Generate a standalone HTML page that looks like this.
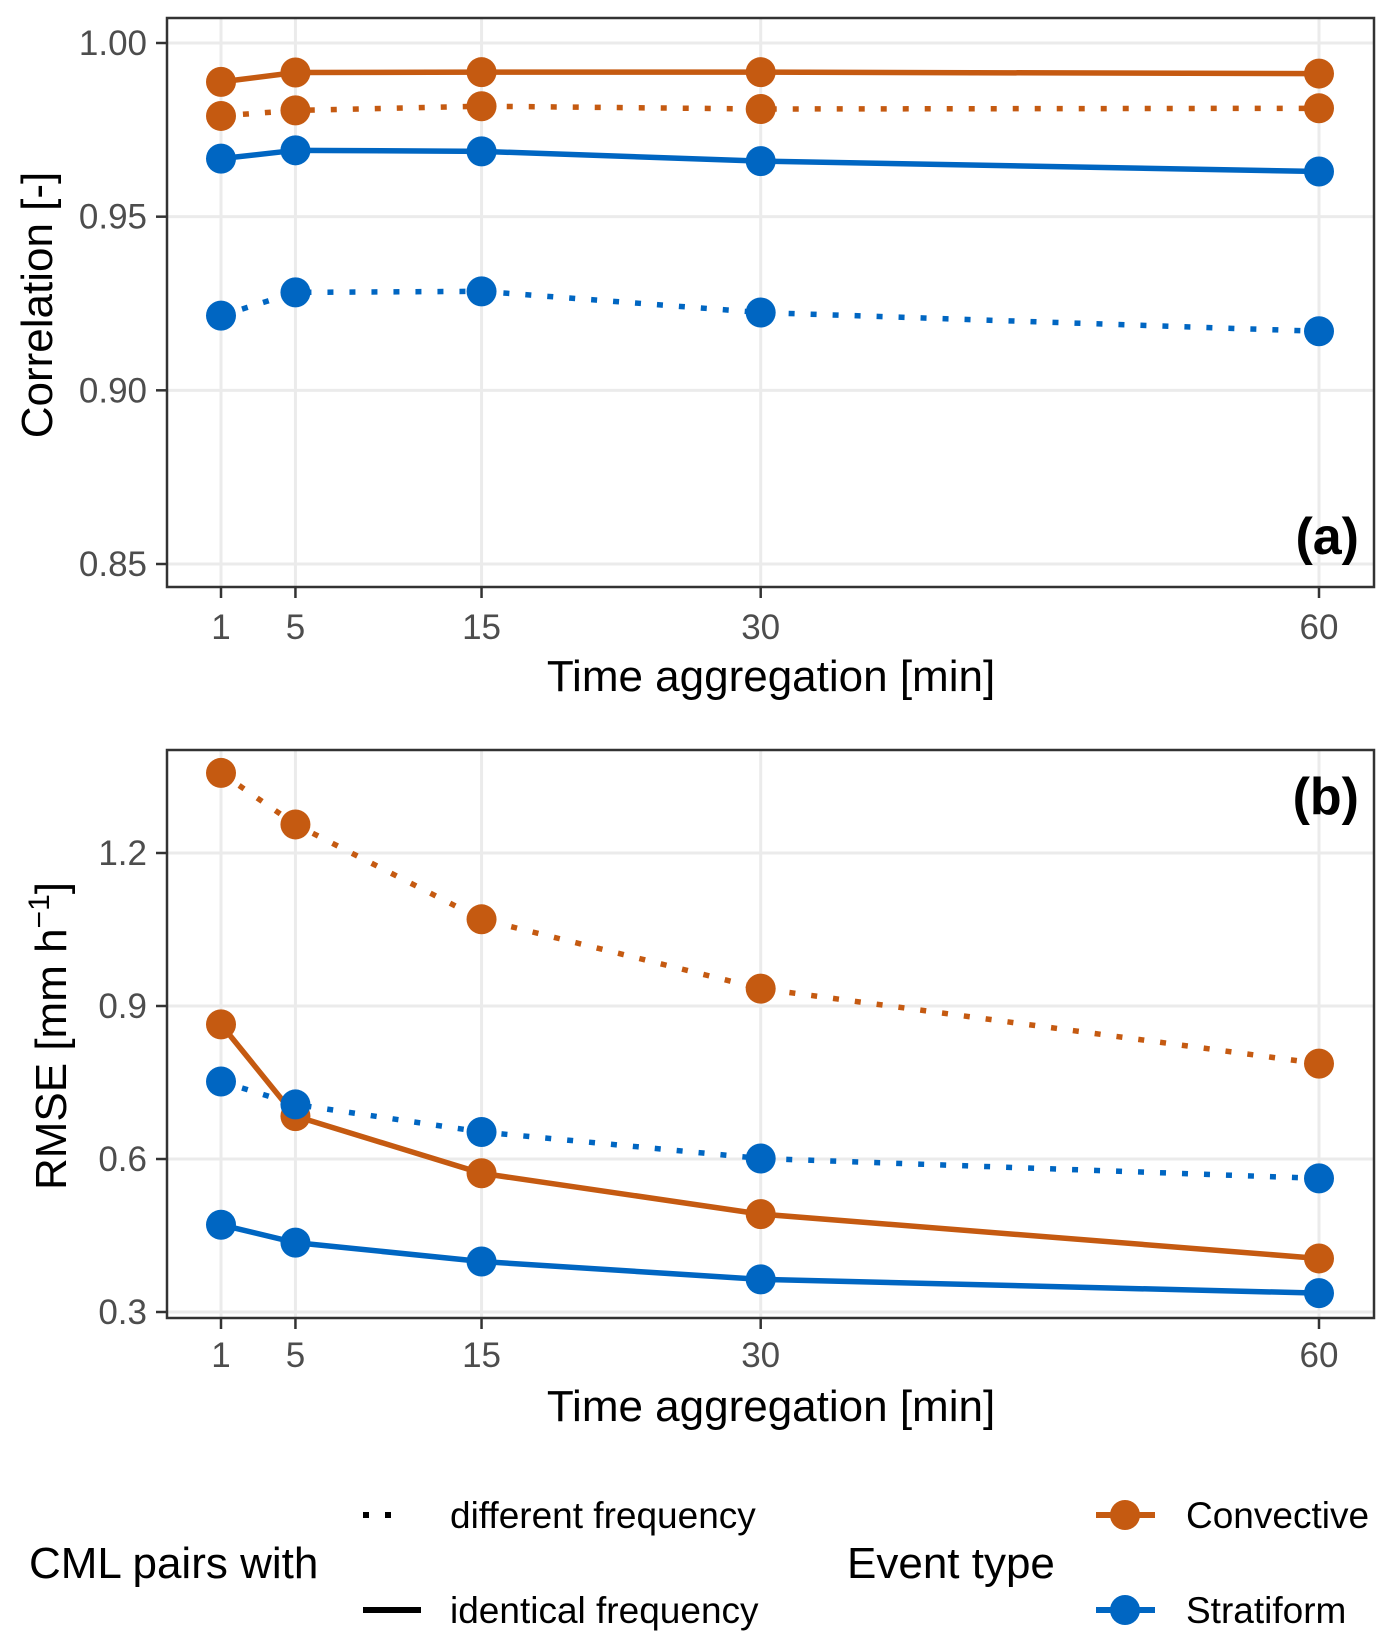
<!DOCTYPE html>
<html><head><meta charset="utf-8"><style>body{margin:0;background:#fff}svg{display:block;font-family:"Liberation Sans",sans-serif}</style></head>
<body>
<svg id="chart" width="1391" height="1646" viewBox="0 0 1391 1646">
<g id="pa"></g>
<g id="pb"></g>
<g font-size="37" fill="#000">
<text x="29" y="1578" font-size="44">CML pairs with</text>
<line x1="363" y1="1515" x2="405" y2="1515" stroke="#000" stroke-width="6" stroke-dasharray="6,16"/>
<text x="450" y="1528">different frequency</text>
<line x1="363" y1="1610" x2="421" y2="1610" stroke="#000" stroke-width="6"/>
<text x="450" y="1623">identical frequency</text>
<text x="847" y="1578" font-size="44">Event type</text>
<line x1="1096" y1="1515" x2="1155" y2="1515" stroke="#C55A11" stroke-width="6"/>
<circle cx="1125" cy="1515" r="15" fill="#C55A11"/>
<text x="1186" y="1528">Convective</text>
<line x1="1096" y1="1610" x2="1155" y2="1610" stroke="#0066C2" stroke-width="6"/>
<circle cx="1125" cy="1610" r="15" fill="#0066C2"/>
<text x="1186" y="1623">Stratiform</text>
</g>
</svg>
<script>
const times=[1,5,15,30,60];
const corrConvIdent=[0.9888,0.9915,0.9916,0.9916,0.9912];
const corrConvDiff=[0.979,0.9806,0.9818,0.981,0.9812];
const corrStratIdent=[0.9667,0.9691,0.9688,0.966,0.963];
const corrStratDiff=[0.9215,0.9282,0.9285,0.9224,0.917];
const rmseConvIdent=[0.864,0.684,0.572,0.492,0.405];
const rmseConvDiff=[1.357,1.256,1.07,0.934,0.787];
const rmseStratIdent=[0.471,0.436,0.399,0.364,0.337];
const rmseStratDiff=[0.752,0.707,0.653,0.601,0.562];
const corrTicks=[0.85,0.90,0.95,1.00];
const corrTickLabels=["0.85","0.90","0.95","1.00"];
const rmseTicks=[0.3,0.6,0.9,1.2];
const rmseTickLabels=["0.3","0.6","0.9","1.2"];
const NS="http://www.w3.org/2000/svg";
const ORANGE="#C55A11",BLUE="#0066C2";
function mk(p,t,a){const e=document.createElementNS(NS,t);for(const k in a)e.setAttribute(k,a[k]);p.appendChild(e);return e;}
const xS=v=>221+(v-1)*(1319-221)/59;
function panel(g,top,bottom,yS,ticks,labels,series,tag,tagY,xTickY,xTitleY){
  mk(g,'rect',{x:167,y:top,width:1207,height:bottom-top,fill:'#fff'});
  ticks.forEach((v,i)=>{const l=mk(g,'line',{x1:167,x2:1374,y1:yS(v),y2:yS(v),stroke:'#ebebeb','stroke-width':3});


const tk=mk(g,'line',{x1:156,x2:167,y1:yS(v),y2:yS(v),stroke:'#333','stroke-width':2.5});


const t=mk(g,'text',{x:147,y:yS(v)+12,'text-anchor':'end','font-size':35,fill:'#4d4d4d'});t.textContent=labels[i];

});
  times.forEach(v=>{const l=mk(g,'line',{x1:xS(v),x2:xS(v),y1:top,y2:bottom,stroke:'#ebebeb','stroke-width':3});


const tk=mk(g,'line',{x1:xS(v),x2:xS(v),y1:bottom,y2:bottom+11,stroke:'#333','stroke-width':2.5});


const t=mk(g,'text',{x:xS(v),y:xTickY,'text-anchor':'middle','font-size':35,fill:'#4d4d4d'});t.textContent=String(v);

});
  series.forEach(s=>{const pts=s.d.map((v,i)=>xS(times[i])+','+yS(v)).join(' ');
const pl=mk(g,'polyline',{points:pts,fill:'none',stroke:s.c,'stroke-width':5.5,'stroke-dasharray':s.dash?'6,16':'none'});


s.d.forEach((v,i)=>{const c=mk(g,'circle',{cx:xS(times[i]),cy:yS(v),r:15,fill:s.c});

});});
  const fr=mk(g,'rect',{x:167,y:top,width:1207,height:bottom-top,fill:'none',stroke:'#333','stroke-width':2.5});


  const tg=mk(g,'text',{x:1359,y:tagY,'text-anchor':'end','font-size':52,'font-weight':'bold'});tg.textContent=tag;


  const xt=mk(g,'text',{x:771,y:xTitleY,'text-anchor':'middle','font-size':44});xt.textContent='Time aggregation [min]';


}
const ya=v=>43+(1.00-v)*(564-43)/0.15;
const gA=document.getElementById('pa');
panel(gA,18,587,ya,corrTicks,corrTickLabels,[
 {d:corrConvIdent,c:ORANGE,n:'corr-convective-identical'},{d:corrConvDiff,c:ORANGE,dash:1,n:'corr-convective-different'},
 {d:corrStratIdent,c:BLUE,n:'corr-stratiform-identical'},{d:corrStratDiff,c:BLUE,dash:1,n:'corr-stratiform-different'}],'(a)',554,639,691);
const yta=mk(gA,'text',{transform:'translate(52,305) rotate(-90)','text-anchor':'middle','font-size':44});yta.textContent='Correlation [-]';


const yb=v=>853+(1.2-v)*(1312-853)/0.9;
const gB=document.getElementById('pb');
panel(gB,750,1318,yb,rmseTicks,rmseTickLabels,[
 {d:rmseConvIdent,c:ORANGE,n:'rmse-convective-identical'},{d:rmseConvDiff,c:ORANGE,dash:1,n:'rmse-convective-different'},
 {d:rmseStratIdent,c:BLUE,n:'rmse-stratiform-identical'},{d:rmseStratDiff,c:BLUE,dash:1,n:'rmse-stratiform-different'}],'(b)',814,1367,1421);
const ytb=mk(gB,'text',{transform:'translate(66,1036) rotate(-90)','text-anchor':'middle','font-size':44});
ytb.innerHTML='RMSE [mm h<tspan font-size="30" dy="-17">−1</tspan><tspan dy="17">]</tspan>';


</script>
</body></html>
